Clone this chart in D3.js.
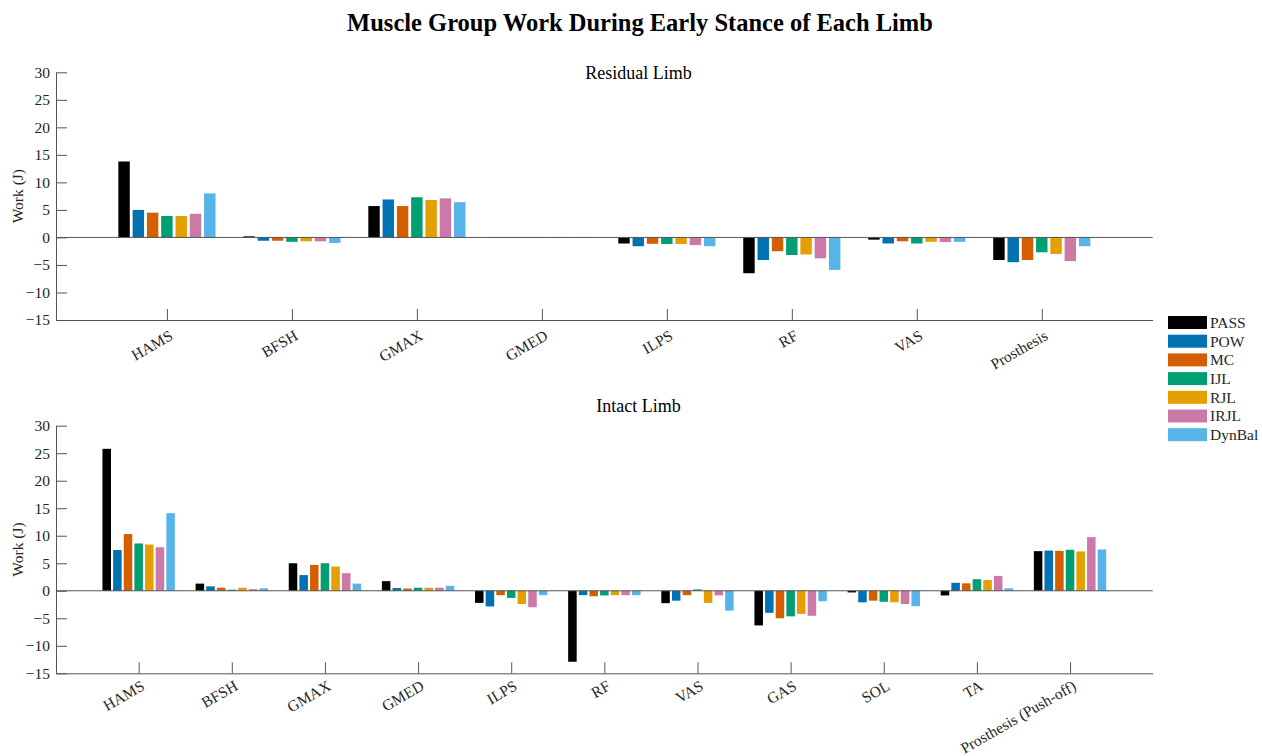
<!DOCTYPE html>
<html>
<head>
<meta charset="utf-8">
<script src="https://cdn.jsdelivr.net/npm/d3@7"></script>
<style>
  html, body { margin: 0; padding: 0; background: #fff; }
  svg { display: block; font-family: "Liberation Serif", "Times New Roman", serif; }
</style>
</head>
<body>
<svg id="chart" width="1262" height="756"></svg>
<script>
// Muscle names on each panel's x axis
const residualMuscles = ["HAMS", "BFSH", "GMAX", "GMED", "ILPS", "RF", "VAS", "Prosthesis"];
const intactMuscles = ["HAMS", "BFSH", "GMAX", "GMED", "ILPS", "RF", "VAS", "GAS", "SOL", "TA", "Prosthesis (Push-off)"];

// Simulation conditions (legend order)
const conditions = ["PASS", "POW", "MC", "IJL", "RJL", "IRJL", "DynBal"];
const conditionColors = ["#000000", "#0072B2", "#D55E00", "#009E73", "#E69F00", "#CC79A7", "#56B4E9"];

// Work (J) per condition, residual limb, one value per muscle group
const residualPASS   = [13.8,  0.2, 5.7, 0.05, -1.1,  -6.5, -0.4,  -4.1];
const residualPOW    = [ 5.0, -0.6, 6.9, 0.03, -1.6,  -4.1, -1.1,  -4.5];
const residualMC     = [ 4.5, -0.6, 5.7, 0.04, -1.15, -2.5, -0.7,  -4.1];
const residualIJL    = [ 3.9, -0.8, 7.3, 0.03, -1.2,  -3.2, -1.1,  -2.7];
const residualRJL    = [ 3.9, -0.7, 6.8, 0.05, -1.2,  -3.1, -0.8,  -3.0];
const residualIRJL   = [ 4.3, -0.7, 7.1, 0.04, -1.4,  -3.8, -0.85, -4.3];
const residualDynBal = [ 8.0, -1.0, 6.4, 0.03, -1.6,  -5.9, -0.8,  -1.6];

// Work (J) per condition, intact limb
const intactPASS   = [25.8, 1.3,  5.0,  1.75, -2.2,  -12.9, -2.25, -6.3,  -0.3, -0.85, 7.2];
const intactPOW    = [ 7.4, 0.8,  2.85, 0.5,  -2.85,  -0.8, -1.8,  -4.0,  -2.1,  1.45, 7.3];
const intactMC     = [10.3, 0.55, 4.7,  0.4,  -0.8,   -1.0, -0.8,  -5.0,  -1.8,  1.35, 7.25];
const intactIJL    = [ 8.6, 0.2,  5.0,  0.55, -1.3,  -0.85,  0.25, -4.65, -2.0,  2.1,  7.45];
const intactRJL    = [ 8.4, 0.55, 4.4,  0.55, -2.4,   -0.8, -2.2,  -4.2,  -2.1,  1.95, 7.15];
const intactIRJL   = [ 7.9, 0.3,  3.2,  0.55, -3.0,   -0.8, -0.85, -4.55, -2.4,  2.7,  9.75];
const intactDynBal = [14.1, 0.45, 1.3,  0.9,  -0.8,   -0.8, -3.6,  -1.9,  -2.8,  0.45, 7.5];

const yTicks = [-15, -10, -5, 0, 5, 10, 15, 20, 25, 30];

const residualSeries = [residualPASS, residualPOW, residualMC, residualIJL, residualRJL, residualIRJL, residualDynBal];
const intactSeries = [intactPASS, intactPOW, intactMC, intactIJL, intactRJL, intactIRJL, intactDynBal];

const svg = d3.select("#chart");
const axisColor = "#555";
const textColor = "#262626";
const serif = "Liberation Serif, Times New Roman, serif";

svg.append("text")
  .attr("x", 640).attr("y", 31)
  .attr("text-anchor", "middle")
  .attr("font-size", 24.5).attr("font-weight", "bold")
  .attr("fill", "#000")
  .text("Muscle Group Work During Early Stance of Each Limb");

function drawPanel(opts) {
  const { muscles, series, top, bottom, title, titleY, labelDrop } = opts;
  const left = 56, right = 1152.7;
  const pad = 0.8875;
  const x = d3.scaleLinear().domain([1 - pad, muscles.length + pad]).range([left, right]);
  const y = d3.scaleLinear().domain([-15, 30]).range([bottom, top]);

  const g = svg.append("g");

  // grouped bars: 7 bars per muscle, group width 0.8
  const step = 0.8 / series.length;
  const barW = step * 0.8;
  series.forEach((vals, si) => {
    const off = (si - (series.length - 1) / 2) * step;
    g.append("g").selectAll("rect")
      .data(vals)
      .join("rect")
      .attr("x", (d, i) => x(i + 1 + off - barW / 2))
      .attr("width", x(barW) - x(0))
      .attr("y", d => y(Math.max(0, d)))
      .attr("height", d => Math.abs(y(d) - y(0)))
      .attr("fill", conditionColors[si]);
  });

  // zero baseline
  g.append("line")
    .attr("x1", left).attr("x2", right)
    .attr("y1", y(0)).attr("y2", y(0))
    .attr("stroke", axisColor).attr("stroke-width", 1);

  // y axis, ticks pointing inward
  const ya = g.append("g")
    .attr("transform", `translate(${left},0)`)
    .call(d3.axisLeft(y).tickValues(yTicks).tickFormat(d3.format("d"))
      .tickSize(-11).tickSizeOuter(0).tickPadding(6));
  ya.select(".domain").attr("stroke", axisColor);
  ya.selectAll(".tick line").attr("stroke", axisColor);
  ya.selectAll(".tick text")
    .attr("font-size", 15.5).attr("fill", textColor)
    .attr("font-family", serif);

  // x axis, ticks pointing inward, rotated labels
  const xa = g.append("g")
    .attr("transform", `translate(0,${bottom})`)
    .call(d3.axisBottom(x).tickValues(d3.range(1, muscles.length + 1))
      .tickFormat(i => muscles[i - 1]).tickSize(-11).tickSizeOuter(0));
  xa.select(".domain").attr("stroke", axisColor);
  xa.selectAll(".tick line").attr("stroke", axisColor);
  xa.selectAll(".tick text")
    .attr("font-size", 15.5).attr("fill", textColor)
    .attr("font-family", serif)
    .attr("text-anchor", "end")
    .attr("x", 0).attr("y", 0).attr("dy", "0.72em")
    .attr("transform", `translate(1,${labelDrop}) rotate(-30)`);

  // y axis label
  g.append("text")
    .attr("transform", `translate(23,${(top + bottom) / 2}) rotate(-90)`)
    .attr("text-anchor", "middle")
    .attr("font-size", 15.5).attr("fill", textColor)
    .text("Work (J)");

  // panel title
  g.append("text")
    .attr("x", 638.5).attr("y", titleY)
    .attr("text-anchor", "middle")
    .attr("font-size", 18).attr("fill", "#000")
    .text(title);
}

drawPanel({ muscles: residualMuscles, series: residualSeries, top: 72.3, bottom: 320, title: "Residual Limb", titleY: 79, labelDrop: 9 });
drawPanel({ muscles: intactMuscles, series: intactSeries, top: 425.7, bottom: 673.3, title: "Intact Limb", titleY: 412, labelDrop: 6 });

// legend
const legend = svg.append("g").attr("transform", "translate(1168,316)");
const rows = legend.selectAll("g").data(conditions).join("g")
  .attr("transform", (d, i) => `translate(0,${i * 18.7})`);
rows.append("rect").attr("width", 39).attr("height", 13)
  .attr("fill", (d, i) => conditionColors[i]);
rows.append("text").attr("x", 42).attr("y", 6.5).attr("dy", "0.35em")
  .attr("font-size", 15.5).attr("fill", textColor)
  .text(d => d);
</script>
</body>
</html>
